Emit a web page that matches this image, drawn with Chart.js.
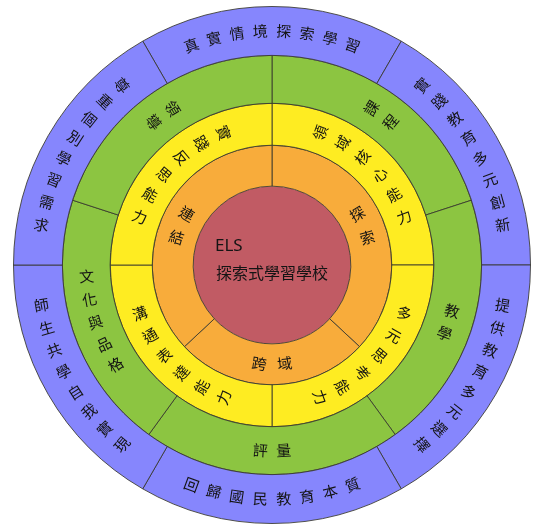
<!DOCTYPE html>
<html>
<head>
<meta charset="utf-8">
<script src="https://cdn.jsdelivr.net/npm/chart.js@4.4.1/dist/chart.umd.min.js"></script>
<style>
  html, body { margin: 0; padding: 0; background: #fff; }
  #wrap { width: 542px; height: 524px; }
</style>
</head>
<body>
<div id="wrap"><canvas id="ringChart" width="542" height="524"></canvas></div>
<script>
// outer ring: school vision (6 x 60deg, first one centred on top)
const visionLabels = ['真實情境探索學習', '實踐教育多元創新', '提供教育多元選擇', '回歸國民教育本質', '師生共學自我實現', '尊重個別學習需求'];
const visionValues = [60, 60, 60, 60, 60, 60];

// second ring: domains
const domainLabels = ['課程', '教學', '評量', '文化與品格', '領導'];
const domainValues = [72, 72, 72, 72, 72];

// third ring: abilities
const abilityLabels = ['領域核心能力', '多元思考能力', '溝通表達能力', '實踐反思能力'];
const abilityValues = [90, 90, 90, 90];

// fourth ring: learning process
const processLabels = ['探索', '跨域', '連結'];
const processValues = [133, 94, 133];

// centre
const coreLabels = ['ELS', '探索式學習學校'];
const coreValues = [1];

const lineColor = 'rgba(55,55,45,0.85)';
const CJK = '"Noto Sans CJK TC", "Noto Sans CJK SC", sans-serif';

function normDeg(d) {
  d = d % 360;
  return d < 0 ? d + 360 : d;
}

// writes each label along its own arc, one character at a time
const arcText = {
  id: 'arcText',
  afterDatasetsDraw(chart) {
    const ctx = chart.ctx;
    ctx.save();
    ctx.fillStyle = '#141414';
    ctx.textAlign = 'center';
    ctx.textBaseline = 'middle';
    ctx.font = '15px ' + CJK;

    chart.data.datasets.forEach((ds, di) => {
      if (!ds.ringLabels) return;
      const meta = chart.getDatasetMeta(di);
      meta.data.forEach((arc, i) => {
        const p = arc.getProps(['x', 'y', 'startAngle', 'endAngle', 'innerRadius', 'outerRadius'], true);
        const chars = Array.from(ds.ringLabels[i]);
        const r = (p.innerRadius + p.outerRadius) / 2;
        const mid = normDeg(((p.startAngle + p.endAngle) / 2 + Math.PI / 2) * 180 / Math.PI);
        const step = (ds.charGap / r) * 180 / Math.PI;

        let dir, rotOf;
        if (mid < 30 || mid > 330) {
          dir = 1; rotOf = a => a;
        } else if (mid > 150 && mid < 210) {
          dir = -1; rotOf = a => a + 180;
        } else if (mid < 180) {
          dir = 1; rotOf = a => a - 90;
        } else {
          dir = -1; rotOf = a => a + 90;
        }

        chars.forEach((ch, k) => {
          const a = mid + dir * (k - (chars.length - 1) / 2) * step;
          const rad = a * Math.PI / 180;
          ctx.save();
          ctx.translate(p.x + r * Math.sin(rad), p.y - r * Math.cos(rad));
          ctx.rotate(rotOf(a) * Math.PI / 180);
          ctx.fillText(ch, 0, 0);
          ctx.restore();
        });
      });
    });

    // centre text, left aligned
    const c = chart.getDatasetMeta(4).data[0];
    ctx.textAlign = 'left';
    ctx.font = '17px "Noto Sans", sans-serif';
    ctx.fillText(coreLabels[0], c.x - 57, c.y - 19);
    ctx.font = '16px ' + CJK;
    ctx.fillText(coreLabels[1], c.x - 56, c.y + 8);
    ctx.restore();
  }
};

new Chart(document.getElementById('ringChart'), {
  type: 'doughnut',
  data: {
    datasets: [
      {
        data: visionValues, ringLabels: visionLabels, charGap: 23.5,
        backgroundColor: '#8686FD', rotation: -30, weight: 49,
        borderColor: lineColor, borderWidth: 1
      },
      {
        data: domainValues, ringLabels: domainLabels, charGap: 23.5,
        backgroundColor: '#8CC541', rotation: 0, weight: 48,
        borderColor: lineColor, borderWidth: 1
      },
      {
        data: abilityValues, ringLabels: abilityLabels, charGap: 24.5,
        backgroundColor: '#FEEC22', rotation: 0, weight: 42,
        borderColor: lineColor, borderWidth: 1
      },
      {
        data: processValues, ringLabels: processLabels, charGap: 25.5,
        backgroundColor: '#F8AC3B', rotation: 0, weight: 41,
        borderColor: lineColor, borderWidth: 1
      },
      {
        data: coreValues,
        backgroundColor: '#C15B64', weight: 79,
        borderWidth: 0
      }
    ]
  },
  options: {
    responsive: false,
    animation: false,
    cutout: 0,
    layout: { padding: { top: 6, bottom: 0, left: 13, right: 11 } },
    plugins: {
      legend: { display: false },
      tooltip: { enabled: false }
    }
  },
  plugins: [arcText]
});
</script>
</body>
</html>
